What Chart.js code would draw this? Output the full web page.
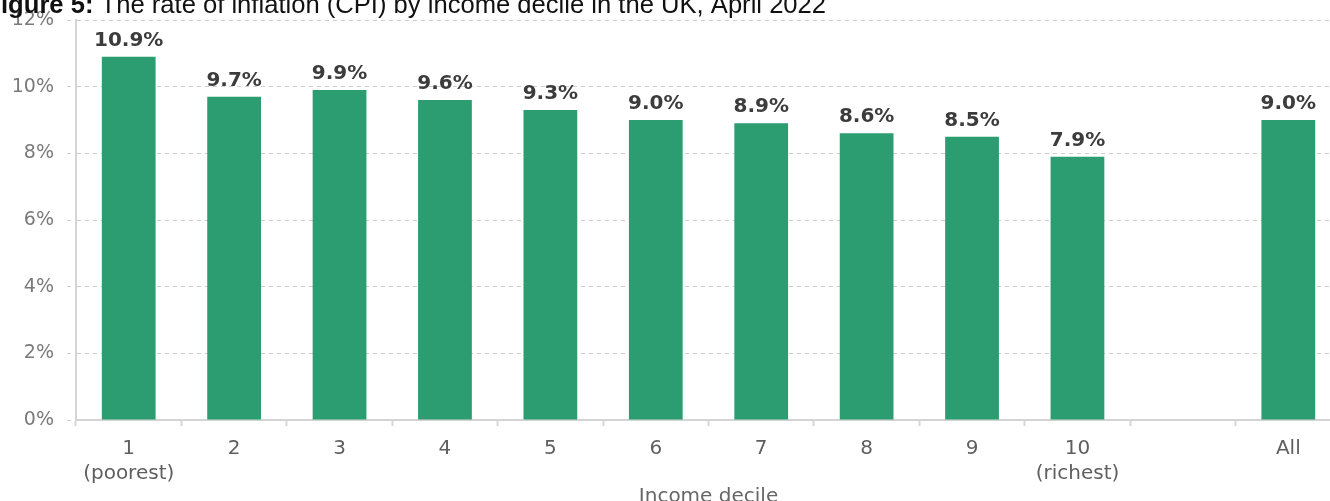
<!DOCTYPE html>
<html>
<head>
<meta charset="utf-8">
<script src="https://cdn.jsdelivr.net/npm/chart.js@4.4.1/dist/chart.umd.min.js"></script>
<style>
  html, body { margin: 0; padding: 0; background: #ffffff; overflow: hidden; }
  #frame { position: absolute; left: 0; top: 0; width: 1330px; height: 501px; overflow: hidden; }
  #box { position: absolute; left: 0; top: 0; width: 1341px; height: 512px; }
</style>
</head>
<body>
<div id="frame"><div id="box"><canvas id="chart"></canvas></div></div>
<script>
// Income deciles (x categories), with a spacer before the overall figure
const deciles = [['1', '(poorest)'], '2', '3', '4', '5', '6', '7', '8', '9', ['10', '(richest)'], '', 'All'];
// Annual CPI inflation, April 2022, per decile (%)
const inflationRates = [10.9, 9.7, 9.9, 9.6, 9.3, 9.0, 8.9, 8.6, 8.5, 7.9, null, 9.0];
// Vertical axis ticks (%)
const yTicks = [0, 2, 4, 6, 8, 10, 12];

const titleBold = 'igure 5:';
const titleRest = ' The rate of inflation (CPI) by income decile in the UK, April 2022';
const xAxisTitle = 'Income decile';

const GREEN = '#2b9d71';
const SANS = '"DejaVu Sans", sans-serif';

// Writes each bar's value above it
const valueLabels = {
  id: 'valueLabels',
  afterDatasetsDraw(chart) {
    const ctx = chart.ctx;
    const meta = chart.getDatasetMeta(0);
    ctx.save();
    ctx.font = 'bold 20px ' + SANS;
    ctx.fillStyle = '#3c3c3c';
    ctx.textAlign = 'center';
    ctx.textBaseline = 'alphabetic';
    meta.data.forEach((bar, i) => {
      const v = inflationRates[i];
      if (v === null || v === undefined) return;
      ctx.fillText(v.toFixed(1) + '%', bar.x, bar.y - 11);
    });
    ctx.restore();
  }
};

// Figure heading across the top edge
const heading = {
  id: 'heading',
  afterDraw(chart) {
    const ctx = chart.ctx;
    ctx.save();
    ctx.fillStyle = '#111111';
    ctx.textBaseline = 'alphabetic';
    ctx.textAlign = 'left';
    ctx.font = 'bold 25.6px "Liberation Sans", Arial, sans-serif';
    ctx.fillText(titleBold, 1, 13);
    const w = ctx.measureText(titleBold).width;
    ctx.font = '25.6px "Liberation Sans", Arial, sans-serif';
    ctx.fillText(titleRest, 1 + w, 13);
    ctx.restore();
  }
};

new Chart(document.getElementById('chart'), {
  type: 'bar',
  data: {
    labels: deciles,
    datasets: [{
      data: inflationRates,
      backgroundColor: GREEN,
      borderWidth: 0,
      categoryPercentage: 1.0,
      barPercentage: 0.51
    }]
  },
  options: {
    responsive: true,
    maintainAspectRatio: false,
    animation: false,
    layout: { padding: { top: 20, left: 0, right: 0, bottom: 0 } },
    plugins: {
      legend: { display: false },
      tooltip: { enabled: false },
      title: { display: false }
    },
    scales: {
      x: {
        grid: {
          display: true,
          offset: true,
          drawOnChartArea: false,
          drawTicks: true,
          tickLength: 6,
          tickColor: '#d6d6d6',
          tickWidth: 2
        },
        border: { display: true, color: '#d4d4d4', width: 2 },
        ticks: {
          color: '#5f5f5f',
          font: { family: SANS, size: 20, lineHeight: 1.25 },
          padding: 10,
          maxRotation: 0,
          autoSkip: false
        },
        title: {
          display: true,
          text: xAxisTitle,
          color: '#666666',
          font: { family: SANS, size: 20, lineHeight: 1.2 },
          padding: { top: 0, bottom: 3 }
        },
        afterFit(scale) { scale.height = 92; }
      },
      y: {
        min: yTicks[0],
        max: yTicks[yTicks.length - 1],
        afterBuildTicks(scale) { scale.ticks = yTicks.map(v => ({ value: v })); },
        grid: {
          color: '#cdcdcd',
          lineWidth: 1,
          drawTicks: true,
          tickLength: 9,
          tickColor: '#cdcdcd',
          tickBorderDash: [4, 4]
        },
        border: { display: true, color: '#d4d4d4', width: 2, dash: [4, 4] },
        ticks: {
          color: '#7a7a7a',
          font: { family: SANS, size: 19 },
          padding: 13,
          callback: v => v + '%'
        },
        afterFit(scale) {
          scale.width = 76;
          // the end labels may overhang the plot area; no extra room needed
          scale.paddingTop = 0;
          scale.paddingBottom = 0;
        }
      }
    }
  },
  plugins: [valueLabels, heading]
});
</script>
</body>
</html>
